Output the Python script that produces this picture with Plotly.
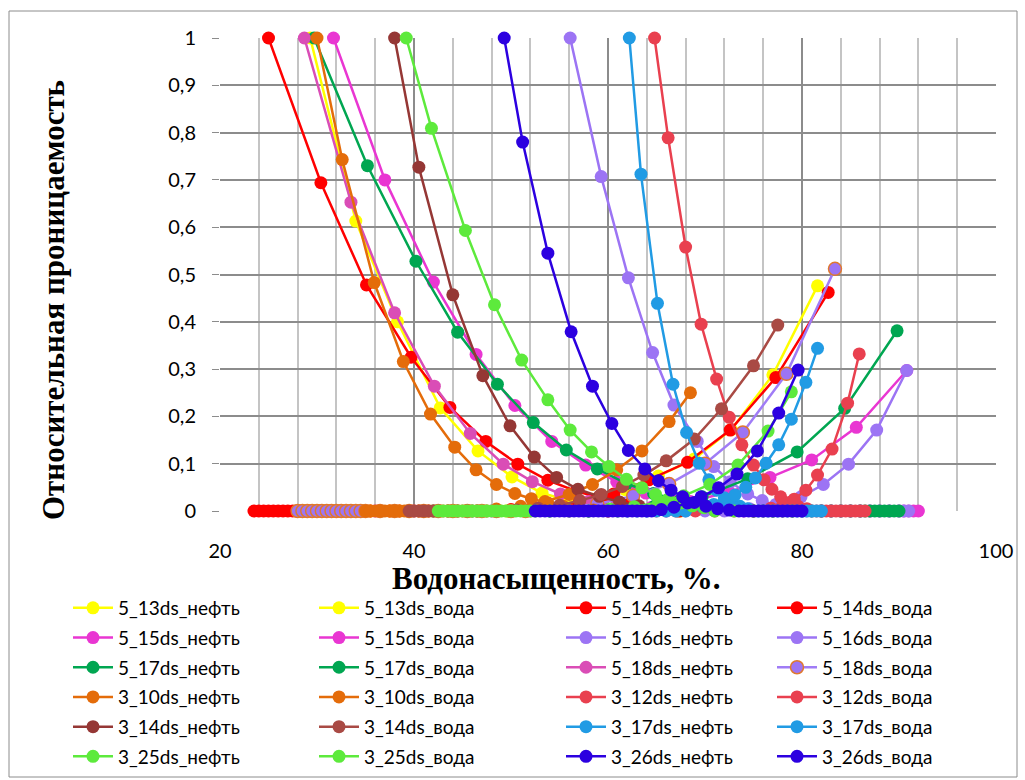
import plotly.graph_objects as go

# ---------------- data (water saturation %, relative permeability) ----------------
oil_x_5_13 = [29.3, 34.0, 38.3, 42.7, 46.6, 50.1, 53.2, 56.2, 59.1, 62.0, 64.8, 67.5]
oil_y_5_13 = [1.0, 0.613, 0.40, 0.218, 0.127, 0.072, 0.038, 0.020, 0.010, 0.004, 0.001, 0.0]
wat_x_5_13 = [29.5, 30.5, 31.5, 32.5, 33.5, 34.5, 35.5, 36.5, 37.5, 38.5, 39.5, 40.5, 41.5, 42.5, 43.5, 44.5,
              45.5, 46.5, 47.5, 48.5, 49.5, 52.3, 55.2, 58.4, 61.8, 65.2, 68.9, 72.7, 77.0, 81.6]
wat_y_5_13 = [0, 0, 0, 0, 0, 0, 0, 0, 0, 0, 0, 0, 0, 0, 0, 0, 0, 0, 0, 0, 0,
              0.006, 0.013, 0.025, 0.045, 0.074, 0.110, 0.172, 0.288, 0.476]

oil_x_5_14 = [25.0, 30.4, 35.1, 39.7, 43.7, 47.4, 50.7, 53.8, 56.7, 59.5, 62.2, 64.8, 67.4]
oil_y_5_14 = [1.0, 0.694, 0.478, 0.325, 0.219, 0.147, 0.099, 0.065, 0.042, 0.026, 0.015, 0.007, 0.0]
wat_x_5_14 = [23.5, 24.0, 24.5, 25.0, 25.5, 26.0, 26.5, 27.0, 27.5, 28.0, 28.5, 29.0, 29.5, 30.0, 30.5,
              31.5, 32.5, 33.5, 34.5, 35.5, 36.5, 37.5, 38.5, 39.5, 40.5, 41.5, 42.5, 43.5, 44.5, 45.5, 46.5,
              50.0, 53.5, 57.0, 60.6, 64.2, 68.2, 72.6, 77.3, 82.7]
wat_y_5_14 = [0, 0, 0, 0, 0, 0, 0, 0, 0, 0, 0, 0, 0, 0, 0,
              0, 0, 0, 0, 0, 0, 0, 0, 0, 0, 0, 0, 0, 0, 0, 0,
              0.003, 0.008, 0.018, 0.036, 0.066, 0.103, 0.171, 0.282, 0.462]

oil_x_5_15 = [31.7, 37.0, 42.0, 46.4, 50.4, 54.2, 57.7, 60.9, 63.9, 66.7, 69.3, 71.8,
              74, 75, 76, 77, 78, 79, 80, 81, 82, 83, 84, 85, 86, 87, 88, 89, 90, 90.5, 91, 91.5, 92]
oil_y_5_15 = [1.0, 0.700, 0.484, 0.331, 0.223, 0.147, 0.097, 0.062, 0.038, 0.022, 0.012, 0.005,
              0, 0, 0, 0, 0, 0, 0, 0, 0, 0, 0, 0, 0, 0, 0, 0, 0, 0, 0, 0, 0]
wat_x_5_15 = [32, 36, 40, 44, 48, 52, 56, 60, 64.5, 68.5, 72.5, 76.7, 81.0, 85.6, 90.8]
wat_y_5_15 = [0, 0, 0, 0, 0, 0, 0, 0, 0.008, 0.020, 0.040, 0.071, 0.108, 0.177, 0.297]

oil_x_5_16 = [56.1, 59.3, 62.1, 64.6, 66.8, 69.2, 70.9, 72.6, 74.4, 75.9, 77.4, 79.0, 80.5,
              82, 83, 84, 85, 86, 87, 88, 89, 90, 90.5, 91]
oil_y_5_16 = [1.0, 0.707, 0.493, 0.335, 0.224, 0.147, 0.094, 0.062, 0.036, 0.022, 0.012, 0.005, 0.0,
              0, 0, 0, 0, 0, 0, 0, 0, 0, 0, 0]
wat_x_5_16 = [56, 58, 60, 62, 64, 66, 68, 70, 72, 74.6, 77.3, 79.9, 82.2, 84.8, 87.7, 90.8]
wat_y_5_16 = [0, 0, 0, 0, 0, 0, 0, 0, 0, 0.005, 0.014, 0.030, 0.056, 0.099, 0.171, 0.297]

oil_x_5_17 = [29.7, 35.2, 40.2, 44.5, 48.6, 52.3, 55.7, 58.9, 61.9, 64.7, 67.4, 70.0, 72.5,
              75, 76, 77, 78, 79, 80, 81, 82, 83, 84, 85, 86, 86.5, 87, 87.5, 88, 88.5, 89, 89.5, 90]
oil_y_5_17 = [1.0, 0.730, 0.528, 0.378, 0.268, 0.187, 0.129, 0.089, 0.058, 0.037, 0.022, 0.012, 0.005,
              0, 0, 0, 0, 0, 0, 0, 0, 0, 0, 0, 0, 0, 0, 0, 0, 0, 0, 0, 0]
wat_x_5_17 = [30, 34, 38, 42, 46, 50, 54, 58, 61, 64.8, 69.7, 74.4, 79.5, 84.4, 89.8]
wat_y_5_17 = [0, 0, 0, 0, 0, 0, 0, 0, 0, 0.010, 0.030, 0.068, 0.125, 0.217, 0.381]

oil_x_5_18 = [28.7, 33.5, 38.0, 42.1, 45.8, 49.2, 52.2, 55.1, 58.0, 60.8, 63.5, 66.0]
oil_y_5_18 = [1.0, 0.653, 0.419, 0.264, 0.164, 0.099, 0.062, 0.036, 0.020, 0.010, 0.004, 0.0]
wat_x_5_18 = [28.0, 28.5, 29.0, 29.5, 30.0, 30.5, 31.0, 31.5, 32.0, 32.5, 33.0, 33.5, 34.0, 34.5, 35.0,
              36.5, 38.0, 39.5, 41.0, 42.5, 44.0, 45.5, 47.0, 48.5, 50.0, 51.5,
              55.2, 58.9, 62.6, 66.3, 70.0, 73.9, 78.4, 83.4]
wat_y_5_18 = [0, 0, 0, 0, 0, 0, 0, 0, 0, 0, 0, 0, 0, 0, 0, 0, 0, 0, 0, 0, 0, 0, 0, 0, 0, 0,
              0.006, 0.015, 0.032, 0.057, 0.100, 0.166, 0.290, 0.512]

oil_x_3_10 = [30.0, 32.6, 35.9, 38.9, 41.7, 44.2, 46.4, 48.5, 50.4, 52.1, 53.8, 55.4, 57.0, 58.5, 60.0]
oil_y_3_10 = [1.0, 0.743, 0.483, 0.316, 0.205, 0.135, 0.087, 0.056, 0.037, 0.026, 0.017, 0.010, 0.005, 0.002, 0.0]
wat_x_3_10 = [35.0, 35.5, 36.0, 36.5, 37.0, 37.5, 38.0, 38.5, 39.0, 39.5, 40.0, 41.0, 42.0, 43.0, 44.0, 45.0,
              46.0, 48.5, 51.0, 53.5, 56.0, 58.4, 60.9, 63.5, 66.3, 68.5]
wat_y_3_10 = [0, 0, 0, 0, 0, 0, 0, 0, 0, 0, 0, 0, 0, 0, 0, 0, 0,
              0.004, 0.010, 0.020, 0.035, 0.056, 0.087, 0.127, 0.189, 0.250]

oil_x_3_12 = [64.8, 66.2, 68.0, 69.6, 71.2, 72.5, 73.8, 75.0, 76.1, 76.9, 77.8, 78.7, 79.6, 80.5,
              81.5, 82.0, 82.5, 83.0, 83.5, 84.0, 84.5, 85.0, 85.5, 86.0, 86.5]
oil_y_3_12 = [1.0, 0.789, 0.558, 0.395, 0.279, 0.198, 0.140, 0.097, 0.066, 0.046, 0.030, 0.018, 0.010, 0.005,
              0, 0, 0, 0, 0, 0, 0, 0, 0, 0, 0]
wat_x_3_12 = [65, 67, 69, 71, 73, 75, 76.8, 78.0, 79.2, 80.4, 81.6, 83.1, 84.7, 85.9]
wat_y_3_12 = [0, 0, 0, 0, 0, 0, 0.006, 0.012, 0.025, 0.044, 0.076, 0.131, 0.228, 0.332]

oil_x_3_14 = [38.0, 40.5, 44.0, 47.1, 49.9, 52.4, 54.7, 56.9, 59.1, 61.2, 63.2, 65.2, 67.2]
oil_y_3_14 = [1.0, 0.727, 0.457, 0.286, 0.180, 0.114, 0.071, 0.046, 0.031, 0.019, 0.011, 0.005, 0.0]
wat_x_3_14 = [39.5, 40.0, 40.5, 41.0, 41.5, 42.0, 42.5, 43.5, 44.5, 45.5, 46.5, 47.5, 48.5,
              50.6, 52.8, 55.0, 57.1, 59.3, 61.5, 63.7, 66.0, 68.9, 71.7, 75.0, 77.5]
wat_y_3_14 = [0, 0, 0, 0, 0, 0, 0, 0, 0, 0, 0, 0, 0,
              0.002, 0.006, 0.012, 0.022, 0.035, 0.052, 0.076, 0.106, 0.152, 0.216, 0.307, 0.393]

oil_x_3_17 = [62.2, 63.4, 65.1, 66.7, 68.1, 69.4, 70.4, 71.2, 72.0, 72.8, 73.6, 74.4,
              75.5, 76.5, 77.5, 78.5, 79.5, 80.0, 80.5, 81.0, 81.5, 82.0]
oil_y_3_17 = [1.0, 0.712, 0.439, 0.268, 0.166, 0.101, 0.066, 0.044, 0.028, 0.017, 0.010, 0.005,
              0, 0, 0, 0, 0, 0, 0, 0, 0, 0]
wat_x_3_17 = [62, 63, 64, 65, 66, 67, 68, 69.8, 70.9, 72.0, 73.1, 74.2, 75.2, 76.3, 77.6, 78.9, 80.4, 81.6]
wat_y_3_17 = [0, 0, 0, 0, 0, 0, 0, 0.008, 0.014, 0.022, 0.034, 0.050, 0.070, 0.101, 0.140, 0.194, 0.272, 0.344]

oil_x_3_25 = [39.2, 41.8, 45.3, 48.3, 51.1, 53.8, 56.1, 58.3, 60.1, 61.9, 63.5, 64.9, 66.2, 67.5, 68.7, 69.9,
              71.0, 73.0, 75.0, 77.0, 79.0]
oil_y_3_25 = [1.0, 0.809, 0.593, 0.436, 0.319, 0.235, 0.171, 0.125, 0.094, 0.067, 0.049, 0.035, 0.025, 0.017,
              0.011, 0.007, 0, 0, 0, 0, 0]
wat_x_3_25 = [42.5, 43.0, 43.5, 44.0, 44.5, 45.0, 45.5, 46.0, 46.5, 47.0, 47.5, 48.0, 48.5, 49.0, 49.5, 50.0,
              50.5, 51.0, 51.5, 52.0, 52.5, 54.0, 56.0, 58.0,
              60.2, 62.7, 65.2, 67.8, 70.5, 73.4, 76.5, 78.9]
wat_y_3_25 = [0, 0, 0, 0, 0, 0, 0, 0, 0, 0, 0, 0, 0, 0, 0, 0, 0, 0, 0, 0, 0, 0, 0, 0,
              0.004, 0.009, 0.018, 0.032, 0.056, 0.097, 0.169, 0.252]

oil_x_3_26 = [49.3, 51.2, 53.8, 56.2, 58.4, 60.4, 62.1, 63.8, 65.2, 66.5, 67.7, 68.9, 70.1, 71.3, 72.5,
              73.5, 74.0, 74.5, 75.0, 75.5, 76.0, 76.5, 77.0, 77.5, 78.0, 78.5, 79.0, 79.5, 80.0]
oil_y_3_26 = [1.0, 0.780, 0.545, 0.379, 0.264, 0.185, 0.128, 0.089, 0.064, 0.044, 0.030, 0.018, 0.010, 0.005,
              0.002, 0, 0, 0, 0, 0, 0, 0, 0, 0, 0, 0, 0, 0, 0]
wat_x_3_26 = [52.5, 53.0, 53.5, 54.0, 54.5, 55.0, 55.5, 56.0, 56.5, 57.0, 57.5, 58.0, 58.5, 59.0, 59.5, 60.0,
              60.5, 61.0, 61.5, 62.0, 62.5, 63.0, 63.5, 64.0, 64.5,
              65.5, 66.8, 68.2, 69.6, 71.4, 73.3, 75.4, 77.6, 79.6]
wat_y_3_26 = [0, 0, 0, 0, 0, 0, 0, 0, 0, 0, 0, 0, 0, 0, 0, 0, 0, 0, 0, 0, 0, 0, 0, 0, 0,
              0.003, 0.008, 0.017, 0.030, 0.049, 0.078, 0.127, 0.207, 0.298]

x_ticks = [20, 40, 60, 80, 100]
y_ticks = [0, 0.1, 0.2, 0.3, 0.4, 0.5, 0.6, 0.7, 0.8, 0.9, 1.0]
y_tick_text = ["0", "0,1", "0,2", "0,3", "0,4", "0,5", "0,6", "0,7", "0,8", "0,9", "1"]

# (name, x, y, line colour, marker fill, marker edge, legend column)
series = [
    ("5_13ds_нефть", oil_x_5_13, oil_y_5_13, "#FFFF00", "#FFFF00", None, 1),
    ("5_13ds_вода", wat_x_5_13, wat_y_5_13, "#FFFF00", "#FFFF00", None, 2),
    ("5_14ds_нефть", oil_x_5_14, oil_y_5_14, "#FF0000", "#FF0000", None, 3),
    ("5_14ds_вода", wat_x_5_14, wat_y_5_14, "#FF0000", "#FF0000", None, 4),
    ("5_15ds_нефть", oil_x_5_15, oil_y_5_15, "#E936D2", "#E936D2", None, 1),
    ("5_15ds_вода", wat_x_5_15, wat_y_5_15, "#E936D2", "#E936D2", None, 2),
    ("5_16ds_нефть", oil_x_5_16, oil_y_5_16, "#9C74F4", "#9C74F4", None, 3),
    ("5_16ds_вода", wat_x_5_16, wat_y_5_16, "#9C74F4", "#9C74F4", None, 4),
    ("5_17ds_нефть", oil_x_5_17, oil_y_5_17, "#00A651", "#00A651", None, 1),
    ("5_17ds_вода", wat_x_5_17, wat_y_5_17, "#00A651", "#00A651", None, 2),
    ("5_18ds_нефть", oil_x_5_18, oil_y_5_18, "#DA4DB6", "#DA4DB6", None, 3),
    ("5_18ds_вода", wat_x_5_18, wat_y_5_18, "#A07CF6", "#9C74F4", "#E0782E", 4),
    ("3_10ds_нефть", oil_x_3_10, oil_y_3_10, "#E46C0A", "#E46C0A", None, 1),
    ("3_10ds_вода", wat_x_3_10, wat_y_3_10, "#E46C0A", "#E46C0A", None, 2),
    ("3_12ds_нефть", oil_x_3_12, oil_y_3_12, "#E9404F", "#E9404F", None, 3),
    ("3_12ds_вода", wat_x_3_12, wat_y_3_12, "#E9404F", "#E9404F", None, 4),
    ("3_14ds_нефть", oil_x_3_14, oil_y_3_14, "#953735", "#953735", None, 1),
    ("3_14ds_вода", wat_x_3_14, wat_y_3_14, "#A94A44", "#A94A44", None, 2),
    ("3_17ds_нефть", oil_x_3_17, oil_y_3_17, "#219BE4", "#219BE4", None, 3),
    ("3_17ds_вода", wat_x_3_17, wat_y_3_17, "#219BE4", "#219BE4", None, 4),
    ("3_25ds_нефть", oil_x_3_25, oil_y_3_25, "#5DEA3C", "#5DEA3C", None, 1),
    ("3_25ds_вода", wat_x_3_25, wat_y_3_25, "#5DEA3C", "#5DEA3C", None, 2),
    ("3_26ds_нефть", oil_x_3_26, oil_y_3_26, "#2C00E0", "#2C00E0", None, 3),
    ("3_26ds_вода", wat_x_3_26, wat_y_3_26, "#2C00E0", "#2C00E0", None, 4),
]

# ---------------- figure ----------------
W, H = 1025, 780
L, R, T, B = 220, 996, 38, 511
pw, ph = R - L, B - T

def px_x(p):
    return (p - L) / pw

def px_y(p):
    return (B - p) / ph

fig = go.Figure()
legend_keys = {1: "legend", 2: "legend2", 3: "legend3", 4: "legend4"}
for i, (name, xs, ys, lc, mc, me, col) in enumerate(series):
    marker = dict(size=13, color=mc)
    if me:
        marker["line"] = dict(color=me, width=1.5)
    else:
        marker["line"] = dict(width=0)
    fig.add_trace(go.Scatter(
        x=xs, y=ys, name=name, mode="lines+markers",
        line=dict(color=lc, width=2.5), marker=marker,
        cliponaxis=False, legend=legend_keys[col], legendgroup=name,
    ))

font_lbl = "Lato, Carlito, 'Open Sans', sans-serif"
col_px = [68, 314, 561, 772]
leg_common = dict(orientation="v", font=dict(family=font_lbl, size=19, color="#000000"),
                  bgcolor="rgba(0,0,0,0)", borderwidth=0, tracegroupgap=2,
                  xanchor="left", yanchor="top", itemwidth=40)
layout_legends = {}
for k, cp in zip(["legend", "legend2", "legend3", "legend4"], col_px):
    d = dict(leg_common)
    d.update(x=px_x(cp), y=px_y(589))
    layout_legends[k] = d

fig.update_layout(
    width=W, height=H,
    margin=dict(l=L, r=W - R, t=T, b=H - B, pad=0, autoexpand=False),
    paper_bgcolor="white", plot_bgcolor="white",
    showlegend=True,
    xaxis=dict(range=[20, 100], tickvals=x_ticks, ticktext=[str(v) for v in x_ticks],
               showgrid=True, gridcolor="#8C8C8C", gridwidth=2,
               minor=dict(dtick=4, tick0=20, showgrid=True, gridcolor="#C4C4C4", gridwidth=2),
               zeroline=False, showline=False, ticks="",
               tickfont=dict(family=font_lbl, size=20, color="#000000"),
               ticklabelstandoff=26),
    yaxis=dict(range=[0, 1], tickvals=y_ticks, ticktext=y_tick_text,
               showgrid=True, gridcolor="#8C8C8C", gridwidth=2,
               zeroline=False, showline=False, ticks="outside", ticklen=7, tickcolor="#8C8C8C",
               tickwidth=1,
               tickfont=dict(family=font_lbl, size=20, color="#000000"),
               ticklabelstandoff=12),
    annotations=[
        dict(text="<b>Водонасыщенность, %.</b>", xref="paper", yref="paper",
             x=px_x(556), y=px_y(578), xanchor="center", yanchor="middle", showarrow=False,
             font=dict(family="'Liberation Serif', 'Times New Roman', serif", size=31, color="#000000")),
        dict(text="<b>Относительная проницаемость</b>", xref="paper", yref="paper",
             x=px_x(53), y=px_y(300), xanchor="center", yanchor="middle", showarrow=False,
             textangle=-90,
             font=dict(family="'Liberation Serif', 'Times New Roman', serif", size=31, color="#000000")),
    ],
    shapes=[dict(type="rect", xref="paper", yref="paper", x0=px_x(9), x1=px_x(1017),
                 y0=px_y(777), y1=px_y(11), line=dict(color="#8C8C8C", width=1), layer="below")],
    **layout_legends,
)

fig.write_html("out.html")
